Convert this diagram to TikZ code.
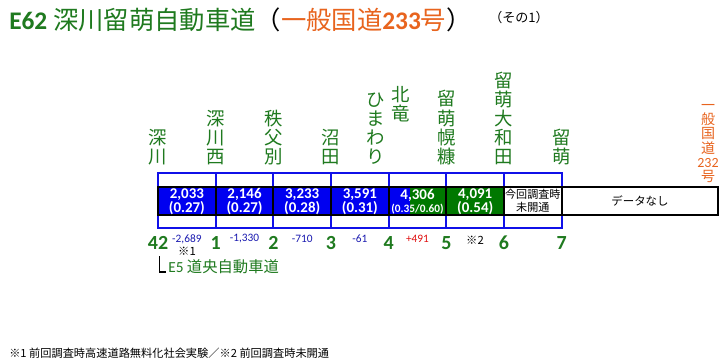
\documentclass[tikz,border=0pt]{standalone}
\usepackage{fontspec}
\setmainfont{Carlito}
\newfontfamily\jp{Noto Sans CJK JP}
\usepackage{xcolor}
\usetikzlibrary{positioning,calc}
\definecolor{roadgreen}{HTML}{1F7A1F}
\definecolor{cellgreen}{HTML}{007800}
\definecolor{cellblue}{HTML}{0000F0}
\definecolor{frameblue}{HTML}{1010E8}
\definecolor{linkorange}{HTML}{E8641E}
\definecolor{diffblue}{HTML}{1A1AB0}
\definecolor{diffred}{HTML}{E01010}

\begin{document}
\begin{tikzpicture}[x=0.75pt,y=-0.75pt,
  icname/.style={anchor=south, inner sep=0pt, align=center, text=roadgreen, font=\jp\fontsize{13.8}{14.3}\selectfont},
  icnum/.style={inner sep=0pt, text=roadgreen, font=\bfseries\fontsize{15}{15}\selectfont},
  diff/.style={inner sep=0pt, text=diffblue, font=\fontsize{8.5}{9}\selectfont},
  volume/.style={inner sep=0pt, align=center, text=white, font=\bfseries\fontsize{11.2}{9.8}\selectfont},
  note/.style={inner sep=0pt, align=center, font=\jp\fontsize{8.3}{9.6}\selectfont}]

\useasboundingbox (0,0) rectangle (720,361);
\fill[white] (0,0) rectangle (720,361);

% title
\node[anchor=west, inner sep=0pt, text=roadgreen, font=\fontsize{19}{20}\selectfont] (title) at (9,20)
  {\textbf{E62} {\jp 深川留萌自動車道}{\jp\color{black}（}{\color{linkorange}{\jp 一般国道}\textbf{233}{\jp 号}}{\jp\color{black}）}};
\node[anchor=west, inner sep=0pt, font=\jp\fontsize{9.8}{11}\selectfont] (part) at (489,18) {（その1）};

% traffic cells
\foreach \i/\c in {1/cellblue, 2/cellblue, 3/cellblue, 4/cellblue, 6/cellgreen}
  \fill[\c] (158+57.67*\i-57.67,187) rectangle (158+57.67*\i,215);
\fill[cellblue] (388.7,187) rectangle (410,215);
\fill[cellgreen] (410,187) rectangle (446.3,215);

% blue frame
\draw[frameblue, line width=1.5pt] (158,173) rectangle (561.7,228);
\foreach \i in {1,...,6}
  \draw[frameblue, line width=1.5pt] (158+57.67*\i,173) -- (158+57.67*\i,228);

% black row
\draw[line width=1.5pt] (158,187) rectangle (718,215);
\foreach \i in {1,...,7}
  \draw[line width=1.5pt] (158+57.67*\i,187) -- (158+57.67*\i,215);

% volumes
\foreach \i/\v/\r in {1/{2,033}/0.27, 2/{2,146}/0.27, 3/{3,233}/0.28, 4/{3,591}/0.31, 6/{4,091}/0.54}
  \node[volume] (vol\i) at (158+57.67*\i-28.8,201.5) {\v\\(\r)};
\node[volume] (vol5) at (417.5,201.5) {4,306\\{\fontsize{8.5}{9.8}\selectfont(0.35/0.60)}};
\node[note] (vol7) at (532.8,201) {今回調査時\\未開通};
\node[note, font=\jp\fontsize{8.6}{9.6}\selectfont] (nodata) at (640,201) {データなし};

% interchange names
\node[icname] (fukagawa) at (158,165) {深\\川};
\node[icname] (fukagawanishi) at (215.7,165) {深\\川\\西};
\node[icname] (chippubetsu) at (273.3,165) {秩\\父\\別};
\node[icname] (numata) at (331,165) {沼\\田};
\node[icname] (himawari) at (375.5,165) {ひ\\ま\\わ\\り};
\node[icname, anchor=north] (hokuryu) at (400.5,86) {北\\竜};
\node[icname] (horonuka) at (446.3,165) {留\\萌\\幌\\糠};
\node[icname] (yamatoda) at (504,165) {留\\萌\\大\\和\\田};
\node[icname] (rumoi) at (561.7,165) {留\\萌};
\node[icname, text=linkorange, font=\jp\fontsize{10.5}{10.7}\selectfont] (route232) at (708,183)
  {一\\般\\国\\道\\{\rmfamily 232}\\号};

% interchange numbers
\foreach \i/\n in {0/42, 1/1, 2/2, 3/3, 4/4, 5/5, 6/6, 7/7}
  \node[icnum] (ic\n) at (158+57.67*\i,243) {\n};

% change from last survey
\foreach \i/\d in {1/{-2,689}, 2/{-1,330}, 3/{-710}, 4/{-61}}
  \node[diff] (diff\i) at (158+57.67*\i-28.8,239) {\d};
\node[diff, text=diffred] (diff5) at (417.5,239) {+491};
\node[diff, text=black, font=\jp\fontsize{8.5}{9}\selectfont] (diff6) at (475,240) {※2};
\node[diff, text=black, font=\jp\fontsize{8.5}{9}\selectfont] (mark1) at (187,251) {※1};

% junction to E5
\node[anchor=base west, inner sep=0pt, text=roadgreen, font=\fontsize{11.5}{12}\selectfont] (doo) at (168,272) {E5 {\jp 道央自動車道}};
\coordinate (doojct) at (159.5,256);
\draw[line width=1pt] (doojct) |- ([xshift=-1.5pt]doo.base west);

% footnote
\node[anchor=west, inner sep=0pt, font=\jp\fontsize{8.4}{9}\selectfont] (footnote) at (9,353)
  {※1 前回調査時高速道路無料化社会実験／※2 前回調査時未開通};

\end{tikzpicture}
\end{document}
